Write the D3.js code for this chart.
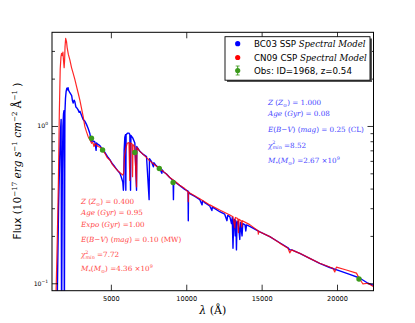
<!DOCTYPE html>
<html><head><meta charset="utf-8">
<script src="https://cdn.jsdelivr.net/npm/d3@7"></script>
<style>
html,body{margin:0;padding:0;background:#fff;}
svg{display:block;}
</style></head>
<body>
<svg id="chart" width="415" height="323"></svg>
<script>
// ---------------- data ----------------
// BC03 SSP model spectrum: [wavelength (Å), flux]
const blueSpec = [
 [1420,0.05],[1470,0.12],[1530,0.3],[1600,0.6],[1650,0.9],[1700,1.1],[1730,0.05],[1780,0.5],[1820,1.0],[1860,1.2],
 [1890,1.25],[1915,0.05],[1950,1.2],[1990,1.5],[2030,1.65],[2080,1.74],[2120,1.7],[2160,1.75],[2200,1.68],[2260,1.64],
 [2330,1.6],[2400,1.56],[2450,1.45],[2500,1.4],[2560,1.46],[2610,1.43],[2680,1.32],[2750,1.3],[2820,1.27],[2900,1.22],
 [2950,1.24],[3050,1.17],[3160,1.1],[3280,1.07],[3390,1.02],[3500,0.96],[3600,0.9],[3660,0.84],[3700,0.8],[3740,0.83],
 [3800,0.8],[3880,0.8],[3940,0.79],[4020,0.7],[4050,0.78],[4100,0.77],[4270,0.75],[4490,0.7],[4600,0.68],[4820,0.63],
 [4932,0.61],[5100,0.575],[5263,0.55],[5450,0.52],[5600,0.5],[5700,0.47],[5790,0.44],[5830,0.39],[5860,0.44],[5880,0.7],
 [5926,0.85],[5970,0.88],[5992,0.39],[6010,0.88],[6100,0.9],[6200,0.9],[6258,0.88],[6304,0.39],[6330,0.87],[6450,0.84],
 [6589,0.78],[6702,0.39],[6720,0.74],[6920,0.69],[7100,0.665],[7365,0.638],[7537,0.34],[7560,0.62],[7700,0.593],[7820,0.55],
 [7850,0.585],[8000,0.56],[8246,0.535],[8380,0.5],[8410,0.525],[8500,0.51],[8690,0.495],[8900,0.47],[9128,0.45],[9150,0.34],
 [9170,0.45],[9400,0.43],[9685,0.41],[9900,0.395],[10120,0.385],[10135,0.25],[10150,0.38],[10235,0.372],[10600,0.355],[10900,0.34],
 [11050,0.315],[11080,0.335],[11200,0.327],[11560,0.31],[11700,0.29],[11730,0.305],[11900,0.298],[12220,0.285],[12550,0.275],[12700,0.25],
 [12750,0.27],[12887,0.265],[13000,0.24],[13050,0.262],[13100,0.167],[13150,0.25],[13200,0.255],[13250,0.2],[13290,0.25],[13330,0.163],
 [13370,0.245],[13450,0.248],[13550,0.19],[13600,0.244],[13700,0.2],[13750,0.24],[13900,0.235],[13950,0.215],[14000,0.235],[14210,0.23],
 [14880,0.212],[15540,0.198],[16200,0.181],[16750,0.168],[16870,0.163],[17000,0.163],[17530,0.155],[18190,0.144],[18850,0.134],[19520,0.126],
 [20180,0.12],[20840,0.114],[21500,0.108],[22050,0.1],[22430,0.097]
];
// CN09 CSP model spectrum: [wavelength (Å), flux]
const redSpec = [
 [1290,0.05],[1380,0.1],[1450,0.2],[1520,0.45],[1580,1.2],[1640,2.3],[1690,2.75],[1730,2.9],[1780,2.8],[1820,2.95],
 [1860,2.6],[1900,2.35],[1930,2.6],[1960,3.2],[2000,3.6],[2060,3.43],[2100,3.15],[2180,2.85],[2280,2.63],[2390,2.35],
 [2500,2.16],[2610,1.98],[2725,1.78],[2830,1.62],[2943,1.46],[3050,1.3],[3160,1.15],[3275,0.99],[3380,0.92],[3494,0.855],
 [3600,0.82],[3719,0.776],[3800,0.79],[3880,0.74],[3950,0.77],[4050,0.757],[4150,0.74],[4250,0.735],[4382,0.722],[4500,0.69],
 [4601,0.67],[4750,0.63],[4932,0.608],[5100,0.57],[5300,0.54],[5500,0.515],[5650,0.5],[5780,0.488],[5850,0.5],[5900,0.64],
 [5990,0.72],[6080,0.776],[6200,0.783],[6258,0.45],[6290,0.78],[6400,0.77],[6437,0.476],[6470,0.76],[6580,0.74],[6702,0.41],
 [6730,0.73],[6920,0.69],[7250,0.645],[7580,0.6],[7915,0.565],[8250,0.535],[8580,0.505],[8910,0.47],[9240,0.445],[9570,0.42],
 [9900,0.4],[10120,0.38],[10135,0.33],[10150,0.38],[10235,0.375],[10900,0.345],[11560,0.315],[12220,0.292],[12890,0.272],[13100,0.265],
 [13220,0.225],[13260,0.262],[13420,0.258],[13460,0.21],[13500,0.255],[13640,0.25],[13680,0.228],[13720,0.25],[14210,0.236],[14760,0.216],
 [14780,0.205],[14800,0.214],[15540,0.198],[16200,0.18],[16750,0.167],[16865,0.156],[16980,0.163],[17530,0.155],[18190,0.144],[18850,0.134],
 [19730,0.1245],[19850,0.118],[19960,0.1266],[20620,0.1215],[21290,0.116],[21460,0.108],[21720,0.099],[22050,0.1],[22430,0.095]
];
// observed photometry
const obsLambda = [3712, 4448, 6589, 8213, 9128, 21458];
const obsFlux   = [0.835, 0.704, 0.678, 0.537, 0.4375, 0.1065];

const xTicks = [5000, 10000, 15000, 20000];
const xTickLabels = ["5000", "10000", "15000", "20000"];
const yMajor = [0.1, 1];
const yMajorExp = ["-1", "0"];
const yMinor = [0.2,0.3,0.4,0.5,0.6,0.7,0.8,0.9,2,3];

const legendLabels = [
  {sans:"BC03 SSP ", serif:"Spectral Model"},
  {sans:"CN09 CSP ", serif:"Spectral Model"},
  {sans:"Obs: ID=1968, z=0.54", serif:""}
];
const seriesColors = ["#0000ff", "#ff0000", "#3c9a1c"];

// ---------------- layout ----------------
const W = 415, H = 323;
const L = 52, R = 373.5, T = 32.3, B = 290.7;
const svg = d3.select("#chart");

const x = d3.scaleLinear().domain([1095, 22420]).range([L, R]);
const y = d3.scaleLog().domain([0.0897, 3.94]).range([B, T]);

svg.append("defs").append("clipPath").attr("id","clip")
  .append("rect").attr("x",L).attr("y",T).attr("width",R-L).attr("height",B-T);

const line = d3.line().x(d=>x(d[0])).y(d=>y(d[1]));
const g = svg.append("g").attr("clip-path","url(#clip)");
g.append("path").datum(blueSpec).attr("d",line).attr("fill","none")
  .attr("stroke",seriesColors[0]).attr("stroke-width",1.4).attr("stroke-linejoin","round");
g.append("path").datum(redSpec).attr("d",line).attr("fill","none")
  .attr("stroke",seriesColors[1]).attr("stroke-opacity",0.85).attr("stroke-width",1.2).attr("stroke-linejoin","round");
g.selectAll("circle.obs").data(obsLambda).enter().append("circle")
  .attr("cx",(d)=>x(d)).attr("cy",(d,i)=>y(obsFlux[i])).attr("r",2.7)
  .attr("fill",seriesColors[2]);

// ---------------- axes ----------------
const axG = svg.append("g");
const styleAxis = sel => { sel.select(".domain").remove(); sel.selectAll("line").attr("stroke","#000").attr("stroke-width",0.8); };
axG.append("g").attr("transform",`translate(0,${B})`)
  .call(d3.axisBottom(x).tickValues(xTicks).tickSize(-6).tickFormat((d,i)=>xTickLabels[i]).tickPadding(6))
  .call(styleAxis)
  .call(s=>s.selectAll("text").attr("font-family","DejaVu Sans").attr("font-size","6.6px").attr("fill","#000"));
axG.append("g").attr("transform",`translate(0,${T})`)
  .call(d3.axisTop(x).tickValues(xTicks).tickSize(-6).tickFormat(""))
  .call(styleAxis);
axG.append("g").attr("transform",`translate(${L},0)`)
  .call(d3.axisLeft(y).tickValues(yMajor).tickSize(-6).tickFormat(""))
  .call(styleAxis);
axG.append("g").attr("transform",`translate(${L},0)`)
  .call(d3.axisLeft(y).tickValues(yMinor).tickSize(-3).tickFormat(""))
  .call(styleAxis);
axG.append("g").attr("transform",`translate(${R},0)`)
  .call(d3.axisRight(y).tickValues(yMajor).tickSize(-6).tickFormat(""))
  .call(styleAxis);
axG.append("g").attr("transform",`translate(${R},0)`)
  .call(d3.axisRight(y).tickValues(yMinor).tickSize(-3).tickFormat(""))
  .call(styleAxis);
// y tick labels 10^n
yMajor.forEach((v,i)=>{
  const t = svg.append("text").attr("x",L-4).attr("y",y(v)+2.5).attr("text-anchor","end")
    .attr("font-family","DejaVu Sans").attr("font-size","6.2px").attr("fill","#000");
  t.append("tspan").text("10");
  t.append("tspan").attr("dy",-3).attr("font-size","4.4px").text(yMajorExp[i].replace("-","\u2212"));
});
// frame
svg.append("rect").attr("x",L).attr("y",T).attr("width",R-L).attr("height",B-T)
  .attr("fill","none").attr("stroke","#000").attr("stroke-width",1);

// ---------------- math text helper ----------------
function mathText(parent, xPos, yPos, segs, size, color){
  const t = parent.append("text").attr("x",xPos).attr("y",yPos)
    .attr("font-family","'DejaVu Serif', serif").attr("font-size",size+"px").attr("fill",color);
  let shift = 0;
  segs.forEach(s=>{
    const [txt, st, dxv] = s;
    const ts = t.append("tspan").text(txt);
    let target = 0, fs = size;
    if (st.includes("sup")) { target = -size*0.42; fs = size*0.68; }
    if (st.includes("sub")) { target = size*0.25; fs = size*0.68; }
    ts.attr("dy", target - shift); shift = target;
    if (fs !== size) ts.attr("font-size", fs+"px");
    if (st.includes("i")) ts.attr("font-style","italic");
    if (st.includes("sans")) ts.attr("font-family","'DejaVu Sans', sans-serif");
    if (dxv) ts.attr("dx", dxv);
  });
  return t;
}

// ---------------- annotation blocks ----------------
const blueC = "#4545ff", redC = "#ff4545";
const annSize = 7.2;
const blueLines = [
  [105, [["Z","i"],[" (","n"],["Z","i"],["\u2299","sub"],[") = 1.000","n"]]],
  [116, [["Age","i"],[" (","n"],["Gyr","i"],[") = 0.08","n"]]],
  [132, [["E","i"],["(","n"],["B","i"],["\u2212","n"],["V","i"],[") (","n"],["mag","i"],[") = 0.25 (CL)","n"]]],
  [147.5, [["\u03c7","i"],["2","sup"],["min","isub",-3],[" =8.52","n"]]],
  [163, [["M","i"],["*","sub"],["(","n"],["M","i"],["\u2299","sub"],[") =2.67 \u00d710","n"],["9","sup"]]]
];
blueLines.forEach(l=>mathText(svg, 268, l[0], l[1], annSize, blueC));
const redLines = [
  [204, [["Z","i"],[" (","n"],["Z","i"],["\u2299","sub"],[") = 0.400","n"]]],
  [215, [["Age","i"],[" (","n"],["Gyr","i"],[") = 0.95","n"]]],
  [226.5, [["Expo","i"],[" (","n"],["Gyr","i"],[") =1.00","n"]]],
  [242, [["E","i"],["(","n"],["B","i"],["\u2212","n"],["V","i"],[") (","n"],["mag","i"],[") = 0.10 (MW)","n"]]],
  [257, [["\u03c7","i"],["2","sup"],["min","isub",-3],[" =7.72","n"]]],
  [271, [["M","i"],["*","sub"],["(","n"],["M","i"],["\u2299","sub"],[") =4.36 \u00d710","n"],["9","sup"]]]
];
redLines.forEach(l=>mathText(svg, 81, l[0], l[1], annSize, redC));

// ---------------- axis labels ----------------
mathText(svg, (L+R)/2, 314, [["\u03bb","i"],[" (\u00c5)","n"]], 11, "#000").attr("text-anchor","middle");
const yl = mathText(svg, 0, 0, [
  ["Flux","sans"],[" (10","n"],["\u221217","sup"],[" erg","i"],[" s","i"],["\u22121","sup"],[" cm","i"],["\u22122","sup"],[" \u00c5","n"],["\u22121","sup"],[" )","n"]
], 10.5, "#000");
yl.attr("text-anchor","middle").attr("transform",`translate(21,161) rotate(-90)`);

// ---------------- legend ----------------
const lg = svg.append("g");
lg.append("rect").attr("x",227).attr("y",38.5).attr("width",145).attr("height",43.5).attr("fill","#555");
lg.append("rect").attr("x",225).attr("y",36.7).attr("width",145).attr("height",43.5)
  .attr("fill","#fff").attr("stroke","#000").attr("stroke-width",0.9);
const rowsY = [43.7, 57.5, 70.5];
legendLabels.forEach((lab,i)=>{
  const cy = rowsY[i];
  if (i===2){
    lg.append("line").attr("x1",237.7).attr("x2",237.7).attr("y1",cy-4.5).attr("y2",cy+4.5).attr("stroke",seriesColors[2]).attr("stroke-width",1);
    lg.append("line").attr("x1",235.7).attr("x2",239.7).attr("y1",cy-4.5).attr("y2",cy-4.5).attr("stroke",seriesColors[2]).attr("stroke-width",0.8);
    lg.append("line").attr("x1",235.7).attr("x2",239.7).attr("y1",cy+4.5).attr("y2",cy+4.5).attr("stroke",seriesColors[2]).attr("stroke-width",0.8);
  }
  lg.append("circle").attr("cx",237.7).attr("cy",cy).attr("r",2.6).attr("fill",seriesColors[i]);
  const t = lg.append("text").attr("x",254).attr("y",cy+3.2).attr("font-size","8.7px").attr("fill","#000");
  t.append("tspan").attr("font-family","'DejaVu Sans', sans-serif").text(lab.sans);
  if (lab.serif) t.append("tspan").attr("font-family","'DejaVu Serif', serif").attr("font-style","italic").attr("font-size","8.6px").text(lab.serif);
});
</script>
</body></html>
